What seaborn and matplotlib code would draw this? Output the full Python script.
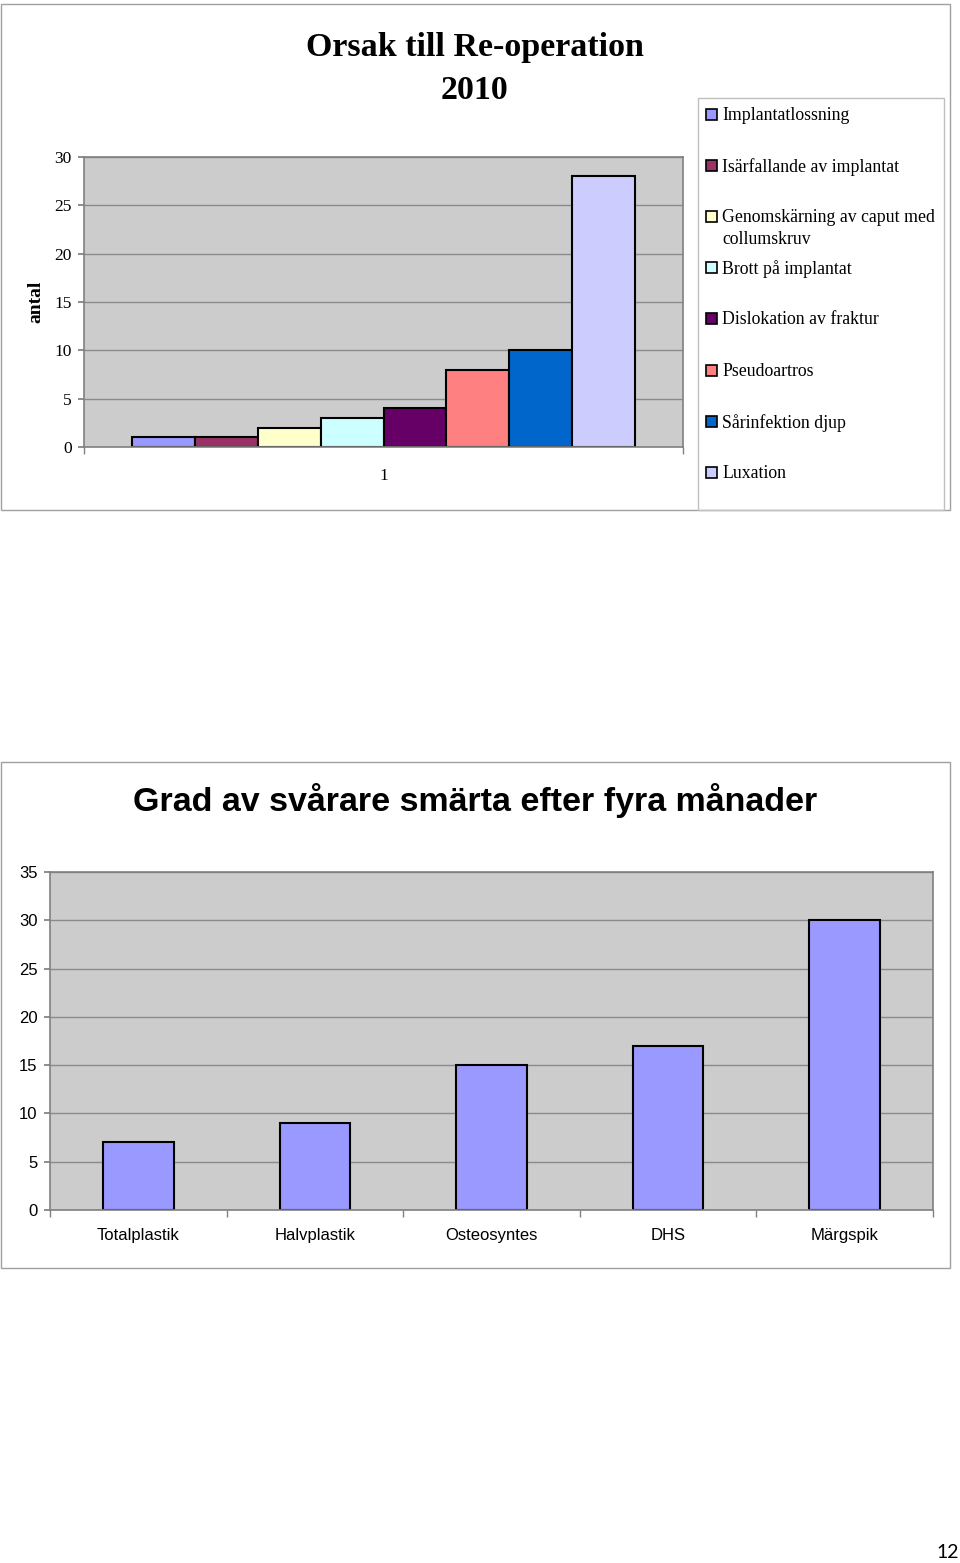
import matplotlib
matplotlib.use("Agg")
import matplotlib.pyplot as plt
from matplotlib.patches import Rectangle
import seaborn as sns
import pandas as pd

# ---------------- data ----------------
top_title = "Orsak till Re-operation"
top_year = "2010"
top_category = ["1"]
causes = [
    "Implantatlossning",
    "Isärfallande av implantat",
    "Genomskärning av caput med\ncollumskruv",
    "Brott på implantat",
    "Dislokation av fraktur",
    "Pseudoartros",
    "Sårinfektion djup",
    "Luxation",
]
cause_values = [1, 1, 2, 3, 4, 8, 10, 28]
cause_colors = ["#9999FF", "#993366", "#FFFFCC", "#CCFFFF",
                "#660066", "#FF8080", "#0066CC", "#CCCCFF"]
top_yticks = [0, 5, 10, 15, 20, 25, 30]

bottom_title = "Grad av svårare smärta efter fyra månader"
methods = ["Totalplastik", "Halvplastik", "Osteosyntes", "DHS", "Märgspik"]
method_values = [7, 9, 15, 17, 30]
bottom_yticks = [0, 5, 10, 15, 20, 25, 30, 35]
page_number = "12"

# ---------------- figure ----------------
sns.set_theme(style="white")
plt.rcParams["font.family"] = ["Liberation Serif", "DejaVu Serif"]
plt.rcParams["text.color"] = "black"
plt.rcParams["axes.labelcolor"] = "black"
plt.rcParams["xtick.labelcolor"] = "black"
plt.rcParams["ytick.labelcolor"] = "black"

W, H = 960, 1563
fig = plt.figure(figsize=(W / 100, H / 100), dpi=100)
fig.patch.set_facecolor("white")

def fx(px):
    return px / W

def fy(py):
    return 1 - py / H

# outer frames
for (x0, y0, x1, y1) in [(1, 4, 950, 510), (1, 762, 950, 1268)]:
    fig.patches.append(Rectangle((fx(x0), fy(y1)), fx(x1) - fx(x0), fy(y0) - fy(y1),
                                 transform=fig.transFigure, fill=False,
                                 edgecolor="#a0a0a0", lw=1.0))

PLOT_BG = "#CCCCCC"
GRID = "#8a8a8a"
SPINE = "#808080"

# ---------------- top chart ----------------
ax1 = fig.add_axes([fx(84), fy(447), fx(683) - fx(84), fy(157) - fy(447)])
df_top = pd.DataFrame({
    "cat": top_category * len(causes),
    "cause": causes,
    "value": cause_values,
})
sns.barplot(data=df_top, x="cat", y="value", hue="cause", hue_order=causes,
            palette=cause_colors, saturation=1, width=0.84, gap=0,
            edgecolor="black", linewidth=1.5, legend=False, ax=ax1)
ax1.set_facecolor(PLOT_BG)
ax1.set_xlim(-0.5, 0.5)
ax1.set_ylim(0, 30)
ax1.set_yticks(top_yticks)
ax1.yaxis.grid(True, color=GRID, lw=1)
ax1.set_axisbelow(True)
for s in ax1.spines.values():
    s.set_color(SPINE)
    s.set_linewidth(1.2)
ax1.set_xlabel("")
ax1.set_ylabel("antal", fontsize=14, fontweight="bold", labelpad=7,
               family=["Liberation Serif"], color="black")
ax1.set_xticks([0])
ax1.set_xticklabels(top_category)
ax1.set_xticks([-0.5, 0.5], minor=True)
ax1.tick_params(axis="x", which="major", length=0, pad=15, labelsize=12.5)
ax1.tick_params(axis="x", which="minor", length=5, color=SPINE, bottom=True)
ax1.tick_params(axis="y", length=4, color=SPINE, left=True, labelsize=12.5, pad=5)

fig.text(fx(475), fy(44), top_title, ha="center", va="center_baseline",
         fontsize=24.5, fontweight="bold", family=["Liberation Serif"])
fig.text(fx(475), fy(87), top_year, ha="center", va="center_baseline",
         fontsize=24.5, fontweight="bold", family=["Liberation Serif"])

# legend box (manual)
fig.patches.append(Rectangle((fx(698), fy(510)), fx(944) - fx(698), fy(98) - fy(510),
                             transform=fig.transFigure, fill=False,
                             edgecolor="#c0c0c0", lw=1.0))
leg_y = [114, 165, 216, 267, 318, 370, 421, 472]
for lbl, col, y in zip(causes, cause_colors, leg_y):
    fig.patches.append(Rectangle((fx(706), fy(y + 6)), fx(11), 11 / H,
                                 transform=fig.transFigure, facecolor=col,
                                 edgecolor="black", lw=1.2))
    lines = lbl.split("\n")
    for k, line in enumerate(lines):
        fig.text(fx(722), fy(y + 22 * k), line, ha="left", va="center_baseline",
                 fontsize=12.8, family=["Liberation Serif"])

# ---------------- bottom chart ----------------
ax2 = fig.add_axes([fx(50), fy(1210), fx(933) - fx(50), fy(872) - fy(1210)])
df_bot = pd.DataFrame({"method": methods, "value": method_values})
sns.barplot(data=df_bot, x="method", y="value", order=methods, color="#9999FF",
            saturation=1, width=0.40, edgecolor="black", linewidth=1.5, ax=ax2)
ax2.set_facecolor(PLOT_BG)
ax2.set_xlim(-0.5, len(methods) - 0.5)
ax2.set_ylim(0, 35)
ax2.set_yticks(bottom_yticks)
ax2.yaxis.grid(True, color=GRID, lw=1)
ax2.set_axisbelow(True)
for s in ax2.spines.values():
    s.set_color(SPINE)
    s.set_linewidth(1.2)
ax2.set_xlabel("")
ax2.set_ylabel("")
ax2.set_xticks(range(len(methods)))
ax2.set_xticklabels(methods, family=["Liberation Sans"], fontsize=12)
ax2.set_xticks([i - 0.5 for i in range(len(methods) + 1)], minor=True)
ax2.tick_params(axis="x", which="major", length=0, pad=13)
ax2.tick_params(axis="x", which="minor", length=5, color=SPINE, bottom=True)
ax2.tick_params(axis="y", length=4, color=SPINE, left=True, pad=5)
for t in ax2.get_yticklabels():
    t.set_family(["Liberation Sans"])
    t.set_fontsize(12)

fig.text(fx(475), fy(801), bottom_title, ha="center", va="center",
         fontsize=24.5, fontweight="bold", family=["Liberation Sans"])

fig.text(fx(959), fy(1552), page_number, ha="right", va="center",
         fontsize=14, family=["Lato", "DejaVu Sans"])

fig.savefig("out.png", dpi=100, facecolor="white")
